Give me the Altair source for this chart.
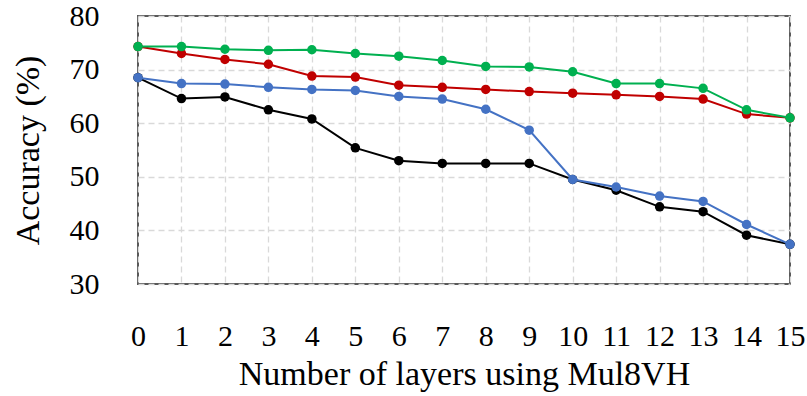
import altair as alt
import pandas as pd

# Number of layers switched to the Mul8VH multiplier
layers = list(range(16))

# Accuracy (%) of each configuration
acc_black = [68.5, 64.6, 64.9, 62.5, 60.8, 55.4, 53.0, 52.5, 52.5, 52.5, 49.5, 47.5, 44.4, 43.5, 39.1, 37.4]
acc_blue = [68.5, 67.4, 67.3, 66.7, 66.3, 66.1, 65.0, 64.5, 62.6, 58.7, 49.5, 48.1, 46.4, 45.4, 41.1, 37.4]
acc_red = [74.3, 73.0, 71.9, 71.0, 68.8, 68.6, 67.1, 66.7, 66.3, 65.9, 65.6, 65.3, 65.0, 64.5, 61.7, 61.0]
acc_green = [74.3, 74.3, 73.8, 73.6, 73.7, 73.0, 72.5, 71.7, 70.6, 70.5, 69.6, 67.4, 67.4, 66.5, 62.5, 61.0]

series = [
    ("black", acc_black, "#000000"),
    ("blue", acc_blue, "#4472c4"),
    ("red", acc_red, "#c00000"),
    ("green", acc_green, "#00b050"),
]

x_scale = alt.Scale(domain=[0, 15], nice=False)
y_scale = alt.Scale(domain=[30, 80], nice=False, zero=False)

x_axis = alt.Axis(
    values=layers,
    title="Number of layers using Mul8VH",
    labelPadding=37,
    titlePadding=6,
    labelFlush=False,
)
y_axis = alt.Axis(
    values=[30, 40, 50, 60, 70, 80],
    title="Accuracy (%)",
    labelPadding=39,
    titlePadding=24,
)

layers_list = []
for name, values, color in series:
    df = pd.DataFrame({"layers": layers, "accuracy": values})
    base = alt.Chart(df).encode(
        x=alt.X("layers:Q", scale=x_scale, axis=x_axis),
        y=alt.Y("accuracy:Q", scale=y_scale, axis=y_axis),
    )
    layers_list.append(base.mark_line(color=color, strokeWidth=2))
    layers_list.append(base.mark_circle(color=color, size=90, opacity=1))

chart = (
    alt.layer(*layers_list)
    .properties(
        width=652,
        height=268,
        autosize=alt.AutoSizeParams(type="none"),
        padding={"left": 138, "top": 16, "right": 17, "bottom": 112},
    )
    .configure_view(stroke="#595959", strokeWidth=2)
    .configure_axis(
        grid=True,
        gridColor="#d9d9d9",
        gridDash=[6, 4],
        gridWidth=1.3,
        domain=False,
        ticks=False,
        labelFont="Liberation Serif",
        labelFontSize=30,
        labelColor="#000000",
        titleFont="Liberation Serif",
        titleFontSize=34,
        titleFontWeight="normal",
        titleColor="#000000",
    )
)

chart.save("out.html", embed_options={"renderer": "svg", "actions": False})
